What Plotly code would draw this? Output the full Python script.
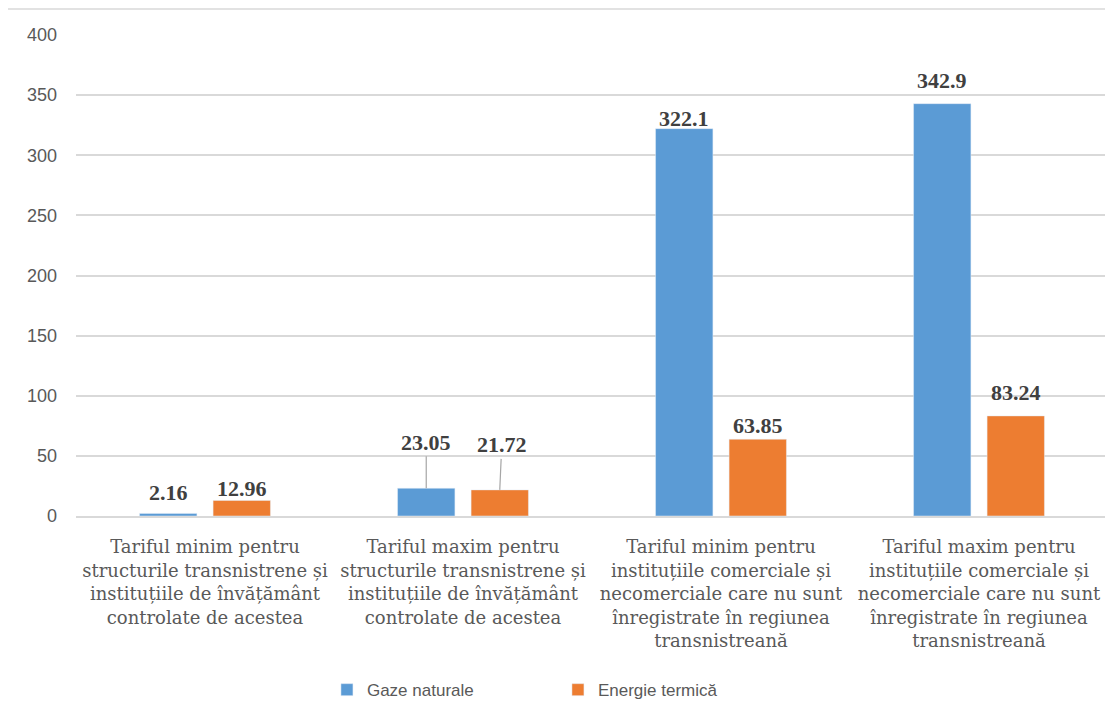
import plotly.graph_objects as go

categories = [
    "Tariful minim pentru<br>structurile transnistrene și<br>instituțiile de învățământ<br>controlate de acestea",
    "Tariful maxim pentru<br>structurile transnistrene și<br>instituțiile de învățământ<br>controlate de acestea",
    "Tariful minim pentru<br>instituțiile comerciale și<br>necomerciale care nu sunt<br>înregistrate în regiunea<br>transnistreană",
    "Tariful maxim pentru<br>instituțiile comerciale și<br>necomerciale care nu sunt<br>înregistrate în regiunea<br>transnistreană",
]
gaze_naturale = [2.16, 23.05, 322.1, 342.9]
energie_termica = [12.96, 21.72, 63.85, 83.24]
gaze_labels = ["2.16", "23.05", "322.1", "342.9"]
energie_labels = ["12.96", "21.72", "63.85", "83.24"]
y_ticks = [0, 50, 100, 150, 200, 250, 300, 350, 400]

# style: label centre offsets above bar top (px), leader line flags
gaze_shift = [21, 46, 10, 23]
energie_shift = [12, 45, 14, 23]
leader = [False, True, False, False]

BLUE = "#5B9BD5"
ORANGE = "#ED7D31"
x_pos = list(range(len(categories)))
off = 0.1425

fig = go.Figure()
fig.add_trace(go.Bar(x=x_pos, y=gaze_naturale, name="Gaze naturale",
                     marker_color=BLUE, offsetgroup=0))
fig.add_trace(go.Bar(x=x_pos, y=energie_termica, name="Energie termică",
                     marker_color=ORANGE, offsetgroup=1))

lab_font = dict(family="Liberation Serif", size=22, color="#404040")
ann = []
for i in x_pos:
    for vals, labs, shifts, sign, dx in ((gaze_naturale, gaze_labels, gaze_shift, -1, 0),
                                          (energie_termica, energie_labels, energie_shift, 1, 2)):
        xc = i + sign * off
        if leader[i]:
            ann.append(dict(x=xc, y=vals[i], xref="x", yref="y", text="<b>%s</b>" % labs[i],
                            showarrow=True, arrowhead=0, arrowwidth=1.2, arrowcolor="#A6A6A6",
                            ax=dx, ay=-shifts[i], font=lab_font, standoff=0))
        else:
            ann.append(dict(x=xc, y=vals[i], xref="x", yref="y", text="<b>%s</b>" % labs[i],
                            showarrow=False, yanchor="middle", yshift=shifts[i], font=lab_font))

fig.update_layout(
    width=1105, height=709,
    margin=dict(l=68, r=5, t=27, b=201),
    paper_bgcolor="white", plot_bgcolor="white",
    barmode="group", bargap=0.43, bargroupgap=0.22,
    showlegend=True,
    legend=dict(orientation="h", x=0.467, xanchor="center", y=-0.362, yanchor="middle",
                font=dict(family="Liberation Sans", size=17, color="#595959"),
                itemwidth=30, traceorder="normal", entrywidth=186),
    annotations=ann,
    shapes=[dict(type="rect", xref="paper", yref="paper", x0=-0.0674, y0=-1.0, x1=1.5, y1=1.054,
                 line=dict(color="#D9D9D9", width=1.5), layer="below")],
)
fig.update_xaxes(
    tickmode="array", tickvals=x_pos, ticktext=categories,
    range=[-0.5, 3.5], showgrid=False, zeroline=False,
    showline=True, linecolor="#D9D9D9", linewidth=1.5,
    ticks="", ticklabelstandoff=14,
    tickfont=dict(family="DejaVu Serif", size=18, color="#595959"),
)
fig.update_yaxes(
    range=[0, 400], tickmode="array", tickvals=y_ticks,
    showgrid=True, gridcolor="#D9D9D9", gridwidth=1.5, zeroline=False,
    showline=False, ticks="", ticklabelstandoff=18,
    tickfont=dict(family="Liberation Sans", size=18, color="#595959"),
)

fig.write_html("out.html")
